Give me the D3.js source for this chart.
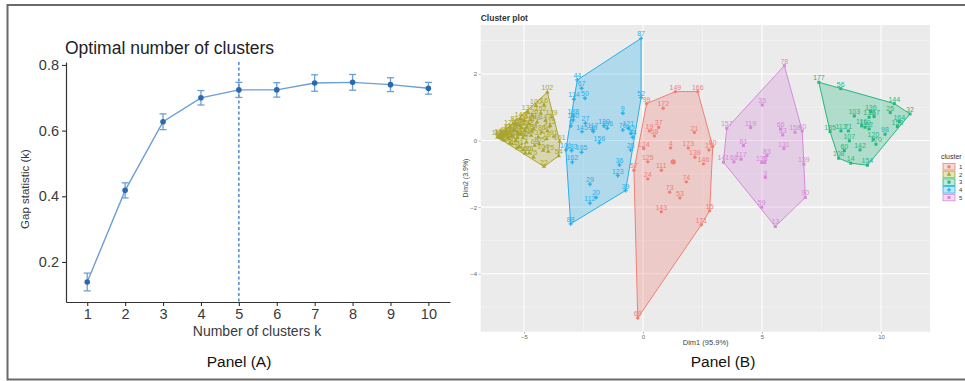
<!DOCTYPE html>
<html>
<head>
<meta charset="utf-8">
<script src="https://cdn.jsdelivr.net/npm/d3@7"></script>
<style>
  html, body { margin: 0; padding: 0; background: #fff; }
  svg { display: block; font-family: "Liberation Sans", Arial, sans-serif; }
</style>
</head>
<body>
<svg id="chart" width="965" height="381"></svg>
<script>
// ---- Panel A data: gap statistic per k ----
var kValues = [1, 2, 3, 4, 5, 6, 7, 8, 9, 10];
var gapValues = [0.139, 0.418, 0.627, 0.700, 0.724, 0.724, 0.745, 0.747, 0.740, 0.729];
var gapSe = [0.027, 0.023, 0.024, 0.022, 0.023, 0.022, 0.025, 0.024, 0.021, 0.018];
var optimalK = 5;
var gapTicks = [0.2, 0.4, 0.6, 0.8];

// ---- Panel B data: [Dim1, Dim2, label] per cluster ----
var cluster1 = [[1.36,1.47,"149"],[2.30,1.47,"166"],[0.15,1.11,"99"],[0.85,0.97,"172"],[0.66,0.40,"37"],
  [0.27,0.29,"19"],[0.48,0.14,"58"],[2.16,0.24,"21"],[0.03,-0.24,"124"],[1.16,-0.22,"4"],[1.90,-0.22,"173"],
  [2.77,-0.28,"17"],[2.93,-0.18,"80"],[2.18,-0.50,"139"],[2.54,-0.70,"146"],[0.20,-0.64,"125"],
  [0.77,-0.89,"111"],[-0.38,-0.89,"57"],[0.20,-1.15,"24"],[1.82,-1.24,"74"],[1.12,-1.55,"73"],
  [1.55,-1.72,"53"],[0.77,-2.14,"143"],[2.80,-2.11,"15"],[2.45,-2.53,"171"],[-0.22,-5.33,"69"]];
var cluster2 = [[-6.12,0.10,"118"],[-6.0,0.15,"151"],[-5.95,0.05,"45"],[-5.9,0.2,"1"],[-5.85,0.12,"84"],
  [-5.8,0.0,"62"],[-5.75,0.3,"8"],[-5.7,0.2,"76"],[-5.65,0.05,"43"],[-5.6,0.4,"128"],[-5.55,0.15,"7"],
  [-5.5,-0.1,"30"],[-5.45,0.33,"150"],[-5.4,0.52,"81"],[-5.35,0.0,"46"],[-5.3,0.48,"163"],[-5.25,0.22,"12"],
  [-5.2,-0.2,"93"],[-5.15,0.66,"140"],[-5.1,0.38,"38"],[-5.05,0.08,"176"],[-5.03,-0.28,"11"],[-5.0,0.6,"55"],
  [-4.95,0.3,"127"],[-4.9,-0.05,"2"],[-4.85,0.86,"137"],[-4.8,0.5,"174"],[-4.78,-0.38,"89"],[-4.7,0.15,"47"],
  [-4.65,0.75,"126"],[-4.6,0.35,"94"],[-4.55,-0.15,"63"],[-4.5,1.05,"100"],[-4.45,0.55,"48"],[-4.4,0.1,"31"],
  [-4.36,-0.1,"105"],[-4.3,0.82,"152"],[-4.25,0.25,"86"],[-4.2,-0.3,"104"],[-4.16,1.07,"16"],[-4.16,-0.78,"22"],
  [-4.1,0.6,"147"],[-4.05,0.05,"18"],[-4.02,1.45,"102"],[-4.02,0.3,"64"],[-3.98,-0.33,"175"],[-3.9,0.45,"115"],
  [-3.84,0.70,"129"],[-3.75,0.12,"91"],[-3.5,-0.03,"161"],[-3.54,-0.46,"54"],[-5.6,-0.08,"72"],[-5.3,-0.22,"41"],
  [-4.95,-0.38,"160"],[-4.6,-0.5,"75"],[-6.05,0.09,"82"],[-5.98,0.12,"106"],[-5.88,0.02,"114"],[-5.78,0.18,"122"],
  [-5.68,0.1,"132"],[-5.58,0.25,"135"],[-5.48,0.12,"148"],[-5.38,0.3,"155"],[-5.28,0.08,"168"],[-5.18,0.45,"169"],
  [-5.12,0.2,"178"],[-4.98,0.15,"181"],[-4.88,0.4,"182"],[-4.72,0.62,"183"],[-4.68,0.28,"184"]];
var cluster3 = [[7.39,1.75,"177"],[8.31,1.56,"56"],[10.56,1.11,"144"],[10.39,0.84,"25"],[11.22,0.80,"32"],
  [8.88,0.74,"103"],[9.57,0.87,"136"],[9.50,0.70,"179"],[9.71,0.72,"167"],[9.19,0.44,"116"],[10.77,0.57,"164"],
  [10.69,0.42,"153"],[7.86,0.27,"185"],[8.32,0.29,"113"],[8.63,0.29,"71"],[9.33,0.40,"110"],[9.50,0.35,"92"],
  [8.67,-0.01,"107"],[10.17,0.19,"98"],[9.68,0.04,"120"],[9.79,-0.11,"170"],[9.12,-0.28,"142"],
  [8.46,-0.30,"60"],[8.22,-0.53,"108"],[8.73,-0.68,"14"],[9.43,-0.74,"154"]];
var cluster4 = [[-0.08,3.07,"87"],[-2.76,1.82,"44"],[-2.58,1.57,"67"],[-2.44,1.27,"50"],[-2.90,1.24,"134"],
  [-0.08,1.29,"52"],[-0.85,0.82,"9"],[-2.93,0.74,"188"],[-2.93,0.62,"180"],[-2.42,0.52,"27"],[-3.03,0.44,"6"],
  [-2.11,0.32,"117"],[-2.56,0.27,"145"],[-2.09,0.27,"26"],[-1.64,0.44,"130"],[-1.50,0.37,"186"],
  [-1.83,-0.06,"156"],[-0.85,0.32,"70"],[-0.62,0.37,"121"],[-0.50,0.22,"42"],[-0.43,0.10,"34"],
  [-0.52,-0.28,"28"],[-3.24,-0.28,"101"],[-3.0,-0.30,"133"],[-2.58,-0.35,"165"],[-2.97,-0.65,"162"],
  [-0.99,-0.73,"36"],[-1.06,-1.05,"123"],[-0.73,-1.50,"39"],[-2.23,-1.31,"29"],[-1.97,-1.71,"20"],
  [-2.23,-1.88,"112"],[-3.04,-2.50,"88"]];
var cluster5 = [[5.94,2.25,"78"],[5.01,1.07,"35"],[3.52,0.37,"157"],[4.52,0.39,"119"],[5.78,0.35,"66"],
  [6.39,0.25,"158"],[6.69,0.29,"40"],[5.87,0.17,"33"],[4.22,-0.15,"61"],[5.92,-0.24,"131"],[5.21,-0.45,"83"],
  [3.38,-0.65,"141"],[3.82,-0.64,"68"],[4.12,-0.56,"117"],[4.99,-0.66,"138"],[5.12,-0.66,"5"],
  [6.76,-0.71,"159"],[5.14,-1.11,"3"],[6.82,-1.71,"90"],[4.99,-2.00,"59"],[5.56,-2.58,"13"]];
var clusterCenters = [[1.27, -0.64, "1"]];
var clusterNames = ["1", "2", "3", "4", "5"];
var dim1Ticks = [-5, 0, 5, 10];
var dim2Ticks = [-4, -2, 0, 2];

var clusters = [cluster1, cluster2, cluster3, cluster4, cluster5];
var colors = ["#f07f76", "#a9a52c", "#25b880", "#27b0ec", "#d58ad8"];
var shapes = [d3.symbolCircle, d3.symbolTriangle, d3.symbolSquare, d3.symbolCross, d3.symbolSquare];

var svg = d3.select("#chart");

// outer frame
svg.append("path")
  .attr("d", "M965,5 H7.5 V379.5 H965")
  .attr("fill", "none").attr("stroke", "#6a6a6a").attr("stroke-width", 2);

// ================= Panel A =================
var xA = d3.scaleLinear().domain([0.44, 10.57]).range([66, 450]);
var yA = d3.scaleLinear().domain([0.078, 0.809]).range([302, 62]);

var gA = svg.append("g");

gA.append("text")
  .attr("x", 65).attr("y", 54)
  .attr("font-size", 17.5).attr("fill", "#222")
  .text("Optimal number of clusters");

var axA = gA.append("g").attr("transform", "translate(0,302)")
  .call(d3.axisBottom(xA).tickValues(kValues).tickSize(4).tickSizeOuter(0).tickPadding(3));
var ayA = gA.append("g").attr("transform", "translate(66,0)")
  .call(d3.axisLeft(yA).tickValues(gapTicks).tickFormat(d3.format(".1f")).tickSize(4).tickSizeOuter(0).tickPadding(3));
[axA, ayA].forEach(function (a) {
  a.select(".domain").attr("stroke", "#333").attr("stroke-width", 1.2);
  a.selectAll(".tick line").attr("stroke", "#333").attr("stroke-width", 1.1);
  a.selectAll(".tick text").attr("font-size", 14.5).attr("fill", "#3a3a3a")
    .attr("font-family", "Liberation Sans, Arial, sans-serif");
});

gA.append("text")
  .attr("x", 257).attr("y", 336).attr("text-anchor", "middle")
  .attr("font-size", 14).attr("fill", "#3a3a3a")
  .text("Number of clusters k");
gA.append("text")
  .attr("transform", "translate(29,189) rotate(-90)").attr("text-anchor", "middle")
  .attr("font-size", 11.5).attr("fill", "#3a3a3a")
  .text("Gap statistic (k)");

// optimal k line
gA.append("line")
  .attr("x1", xA(optimalK)).attr("x2", xA(optimalK))
  .attr("y1", yA.range()[1]).attr("y2", yA.range()[0])
  .attr("stroke", "#4a87cf").attr("stroke-width", 1.5).attr("stroke-dasharray", "3,2.5");

var gapData = kValues.map(function (k, i) { return { k: k, v: gapValues[i], se: gapSe[i] }; });

gA.append("path").datum(gapData)
  .attr("fill", "none").attr("stroke", "#6b9fd6").attr("stroke-width", 1.4)
  .attr("d", d3.line().x(function (d) { return xA(d.k); }).y(function (d) { return yA(d.v); }));

var eb = gA.selectAll(".eb").data(gapData).enter().append("g").attr("class", "eb")
  .attr("stroke", "#6b9fd6").attr("stroke-width", 1.3);
eb.append("line")
  .attr("x1", function (d) { return xA(d.k); }).attr("x2", function (d) { return xA(d.k); })
  .attr("y1", function (d) { return yA(d.v + d.se); }).attr("y2", function (d) { return yA(d.v - d.se); });
eb.append("line")
  .attr("x1", function (d) { return xA(d.k) - 3.5; }).attr("x2", function (d) { return xA(d.k) + 3.5; })
  .attr("y1", function (d) { return yA(d.v + d.se); }).attr("y2", function (d) { return yA(d.v + d.se); });
eb.append("line")
  .attr("x1", function (d) { return xA(d.k) - 3.5; }).attr("x2", function (d) { return xA(d.k) + 3.5; })
  .attr("y1", function (d) { return yA(d.v - d.se); }).attr("y2", function (d) { return yA(d.v - d.se); });

gA.selectAll(".pt").data(gapData).enter().append("circle")
  .attr("cx", function (d) { return xA(d.k); }).attr("cy", function (d) { return yA(d.v); })
  .attr("r", 2.8).attr("fill", "#2a6aac");

gA.append("text")
  .attr("x", 239).attr("y", 367).attr("text-anchor", "middle")
  .attr("font-size", 15.5).attr("fill", "#111")
  .text("Panel (A)");

// ================= Panel B =================
var xB = d3.scaleLinear().domain([-6.82, 12.06]).range([480.7, 930]);
var yB = d3.scaleLinear().domain([-5.74, 3.47]).range([331.7, 25]);

var gB = svg.append("g");

gB.append("text")
  .attr("x", 480.7).attr("y", 21).attr("font-size", 8.5).attr("font-weight", "bold").attr("fill", "#333")
  .text("Cluster plot");

gB.append("rect")
  .attr("x", xB.range()[0]).attr("y", yB.range()[1])
  .attr("width", xB.range()[1] - xB.range()[0]).attr("height", yB.range()[0] - yB.range()[1])
  .attr("fill", "#ebebeb");

// grid
var xMinor = [-2.5, 2.5, 7.5];
var yMinor = [-5, -3, -1, 1, 3];
gB.selectAll(".gxm").data(xMinor).enter().append("line")
  .attr("x1", xB).attr("x2", xB).attr("y1", yB.range()[1]).attr("y2", yB.range()[0])
  .attr("stroke", "#f7f7f7").attr("stroke-width", 0.6);
gB.selectAll(".gym").data(yMinor).enter().append("line")
  .attr("y1", yB).attr("y2", yB).attr("x1", xB.range()[0]).attr("x2", xB.range()[1])
  .attr("stroke", "#f7f7f7").attr("stroke-width", 0.6);
gB.selectAll(".gx").data(dim1Ticks).enter().append("line")
  .attr("x1", xB).attr("x2", xB).attr("y1", yB.range()[1]).attr("y2", yB.range()[0])
  .attr("stroke", "#fff").attr("stroke-width", 1.1);
gB.selectAll(".gy").data(dim2Ticks).enter().append("line")
  .attr("y1", yB).attr("y2", yB).attr("x1", xB.range()[0]).attr("x2", xB.range()[1])
  .attr("stroke", "#fff").attr("stroke-width", 1.1);

var axB = gB.append("g").attr("transform", "translate(0," + yB.range()[0] + ")")
  .call(d3.axisBottom(xB).tickValues(dim1Ticks).tickSize(2).tickPadding(1.5));
var ayB = gB.append("g").attr("transform", "translate(" + xB.range()[0] + ",0)")
  .call(d3.axisLeft(yB).tickValues(dim2Ticks).tickSize(2).tickPadding(1.5));
[axB, ayB].forEach(function (a) {
  a.select(".domain").remove();
  a.selectAll(".tick line").attr("stroke", "#888").attr("stroke-width", 0.6);
  a.selectAll(".tick text").attr("font-size", 6).attr("fill", "#666")
    .attr("font-family", "Liberation Sans, Arial, sans-serif");
});

gB.append("text")
  .attr("x", 705.7).attr("y", 344.5).attr("text-anchor", "middle")
  .attr("font-size", 7.5).attr("fill", "#444")
  .text("Dim1 (95.9%)");
gB.append("text")
  .attr("transform", "translate(468,178) rotate(-90)").attr("text-anchor", "middle")
  .attr("font-size", 7).attr("fill", "#444")
  .text("Dim2 (3.9%)");

// hulls
clusters.forEach(function (pts, i) {
  var hull = d3.polygonHull(pts.map(function (p) { return [xB(p[0]), yB(p[1])]; }));
  gB.append("path")
    .attr("d", "M" + hull.join("L") + "Z")
    .attr("fill", colors[i]).attr("fill-opacity", 0.3)
    .attr("stroke", colors[i]).attr("stroke-width", 1);
});

// points + labels
clusters.forEach(function (pts, i) {
  var g = gB.append("g").attr("fill", colors[i]);
  g.selectAll("path").data(pts).enter().append("path")
    .attr("transform", function (p) { return "translate(" + xB(p[0]) + "," + yB(p[1]) + ")"; })
    .attr("d", d3.symbol().type(shapes[i]).size(9));
  g.selectAll("text").data(pts).enter().append("text")
    .attr("x", function (p) { return xB(p[0]); })
    .attr("y", function (p) { return yB(p[1]) - 2; })
    .attr("text-anchor", "middle").attr("font-size", 7)
    .text(function (p) { return p[2]; });
});

gB.selectAll(".ctr").data(clusterCenters).enter().append("path")
  .attr("transform", function (p) { return "translate(" + xB(p[0]) + "," + yB(p[1]) + ")"; })
  .attr("d", d3.symbol().type(d3.symbolCircle).size(22))
  .attr("fill", function (p) { return colors[+p[2] - 1]; });

// legend
var lg = gB.append("g");
lg.append("text").attr("x", 941).attr("y", 159).attr("font-size", 7).attr("fill", "#333").text("cluster");
var keys = lg.selectAll(".key").data(clusterNames).enter().append("g")
  .attr("transform", function (d, i) { return "translate(943," + (163.5 + i * 7.7) + ")"; });
keys.append("rect").attr("width", 12).attr("height", 6.5)
  .attr("fill", function (d, i) { return colors[i]; }).attr("fill-opacity", 0.3)
  .attr("stroke", function (d, i) { return colors[i]; }).attr("stroke-width", 0.8);
keys.append("path").attr("transform", "translate(6,3.25)")
  .attr("d", function (d, i) { return d3.symbol().type(shapes[i]).size(9)(); })
  .attr("fill", function (d, i) { return colors[i]; });
keys.append("text").attr("x", 16).attr("y", 5.5).attr("font-size", 6).attr("fill", "#333")
  .text(function (d) { return d; });

gB.append("text")
  .attr("x", 723).attr("y", 367).attr("text-anchor", "middle")
  .attr("font-size", 15.5).attr("fill", "#111")
  .text("Panel (B)");
</script>
</body>
</html>
